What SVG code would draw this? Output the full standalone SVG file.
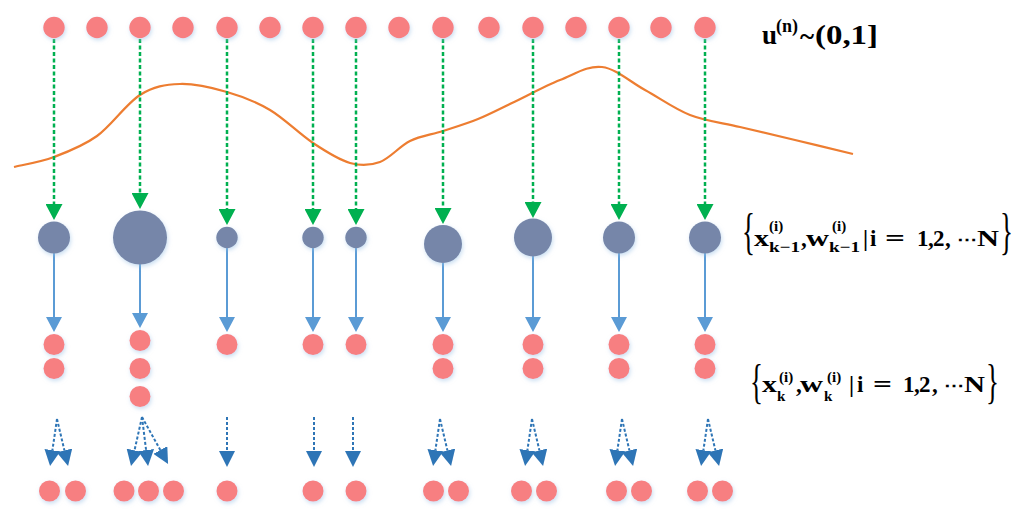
<svg xmlns="http://www.w3.org/2000/svg" width="1024" height="514" viewBox="0 0 1024 514">
<defs>
<filter id="sh" x="-50%" y="-50%" width="200%" height="200%">
<feDropShadow dx="1" dy="2" stdDeviation="2" flood-color="#9dc3e6" flood-opacity="0.55"/>
</filter>
<marker id="hg" markerUnits="userSpaceOnUse" viewBox="0 0 16 17" markerWidth="16" markerHeight="17" refX="0" refY="8.5" orient="auto"><path d="M0,0 L16,8.5 L0,17 z" fill="#00b050"/></marker>
<marker id="hl" markerUnits="userSpaceOnUse" viewBox="0 0 15 16" markerWidth="15" markerHeight="16" refX="0" refY="8" orient="auto"><path d="M0,0 L15,8 L0,16 z" fill="#5b9bd5"/></marker>
<marker id="hd" markerUnits="userSpaceOnUse" viewBox="0 0 16 16" markerWidth="16" markerHeight="16" refX="0" refY="8" orient="auto"><path d="M0,0 L16,8 L0,16 z" fill="#2e75b6"/></marker>
</defs>
<style>
.r{fill:#f77f81;filter:url(#sh)}
.p{fill:#7686a9;filter:url(#sh)}
.g{stroke:#00b050;stroke-width:2.5;stroke-dasharray:4 2.5;fill:none;marker-end:url(#hg)}
.b{stroke:#5b9bd5;stroke-width:2;fill:none;marker-end:url(#hl)}
.d{stroke:#2e75b6;stroke-width:2;stroke-dasharray:3 2;fill:none;marker-end:url(#hd)}
.t{font-family:"Liberation Serif","Times New Roman",serif;font-weight:bold;fill:#000}
.br{font-family:"Liberation Serif","Times New Roman",serif;font-weight:normal;fill:#000}
</style>
<rect width="1024" height="514" fill="#ffffff"/>

<path id="density" d="M14,167 C20.7,165.3 40.2,162.2 54,157 C67.8,151.8 82.7,146.3 97,136 C111.3,125.7 126.2,103.7 140,95 C153.8,86.3 165.5,84.5 180,84 C194.5,83.5 212,87.7 227,92 C242,96.3 255.7,101.5 270,110 C284.3,118.5 299.7,134.2 313,143 C326.3,151.8 338.8,159.8 350,163 C361.2,166.2 370,165.7 380,162 C390,158.3 399.5,146.2 410,141 C420.5,135.8 431.7,134.7 443,131 C454.3,127.3 466.5,123.7 478,119 C489.5,114.3 498.3,109.5 512,103 C525.7,96.5 545,86 560,80 C575,74 587.8,65.3 602,67 C616.2,68.7 630.3,82 645,90 C659.7,98 674.2,108.8 690,115 C705.8,121.2 722.5,122.8 740,127 C757.5,131.2 776.2,135.5 795,140 C813.8,144.5 843.3,151.7 853,154" fill="none" stroke="#ed7d31" stroke-width="2.2"/>

<g id="connectors">
<line class="g" x1="54" y1="39" x2="54" y2="204"/>
<line class="g" x1="140" y1="39" x2="140" y2="193"/>
<line class="g" x1="227" y1="39" x2="227" y2="209"/>
<line class="g" x1="313" y1="39" x2="313" y2="209"/>
<line class="g" x1="356" y1="39" x2="356" y2="209"/>
<line class="g" x1="443" y1="39" x2="443" y2="208"/>
<line class="g" x1="533" y1="39" x2="533" y2="202"/>
<line class="g" x1="619" y1="39" x2="619" y2="204"/>
<line class="g" x1="705" y1="39" x2="705" y2="204"/>

<line class="b" x1="54" y1="253" x2="54" y2="317"/>
<line class="b" x1="140" y1="264" x2="140" y2="313"/>
<line class="b" x1="227" y1="248" x2="227" y2="317"/>
<line class="b" x1="313" y1="248" x2="313" y2="317"/>
<line class="b" x1="356" y1="248" x2="356" y2="317"/>
<line class="b" x1="443" y1="263" x2="443" y2="317"/>
<line class="b" x1="533" y1="256" x2="533" y2="317"/>
<line class="b" x1="619" y1="253" x2="619" y2="317"/>
<line class="b" x1="705" y1="253" x2="705" y2="317"/>

<line class="d" x1="57" y1="419" x2="52.4" y2="450.2"/>
<line class="d" x1="57" y1="419" x2="64.4" y2="450.4"/>
<line class="d" x1="142" y1="417" x2="134.5" y2="450.4"/>
<line class="d" x1="142" y1="417" x2="146.1" y2="450.1"/>
<line class="d" x1="142" y1="417" x2="160.3" y2="450"/>
<line class="d" x1="227" y1="417" x2="227" y2="451"/>
<line class="d" x1="314" y1="417" x2="314" y2="451"/>
<line class="d" x1="353" y1="417" x2="353" y2="451"/>
<line class="d" x1="440" y1="419" x2="435.4" y2="450.2"/>
<line class="d" x1="440" y1="419" x2="447.4" y2="450.4"/>
<line class="d" x1="532" y1="419" x2="527.4" y2="450.2"/>
<line class="d" x1="532" y1="419" x2="539.4" y2="450.4"/>
<line class="d" x1="622" y1="419" x2="617.4" y2="450.2"/>
<line class="d" x1="622" y1="419" x2="629.4" y2="450.4"/>
<line class="d" x1="708" y1="419" x2="703.4" y2="450.2"/>
<line class="d" x1="708" y1="419" x2="715.4" y2="450.4"/>
</g>

<g id="uniform-samples">
<circle class="r" cx="54" cy="27.5" r="10.7"/>
<circle class="r" cx="97" cy="27.5" r="10.7"/>
<circle class="r" cx="140" cy="27.5" r="10.7"/>
<circle class="r" cx="183" cy="27.5" r="10.7"/>
<circle class="r" cx="227" cy="27.5" r="10.7"/>
<circle class="r" cx="270" cy="27.5" r="10.7"/>
<circle class="r" cx="313" cy="27.5" r="10.7"/>
<circle class="r" cx="356" cy="27.5" r="10.7"/>
<circle class="r" cx="399" cy="27.5" r="10.7"/>
<circle class="r" cx="443" cy="27.5" r="10.7"/>
<circle class="r" cx="489" cy="27.5" r="10.7"/>
<circle class="r" cx="533" cy="27.5" r="10.7"/>
<circle class="r" cx="576" cy="27.5" r="10.7"/>
<circle class="r" cx="619" cy="27.5" r="10.7"/>
<circle class="r" cx="661" cy="27.5" r="10.7"/>
<circle class="r" cx="705" cy="27.5" r="10.7"/>
</g>

<g id="weighted-particles">
<circle class="p" cx="54" cy="237.5" r="16"/>
<circle class="p" cx="140" cy="237.5" r="27"/>
<circle class="p" cx="227" cy="237.5" r="10.7"/>
<circle class="p" cx="313" cy="237.5" r="10.7"/>
<circle class="p" cx="356" cy="237.5" r="10.7"/>
<circle class="p" cx="443" cy="244" r="19"/>
<circle class="p" cx="533" cy="237.5" r="19"/>
<circle class="p" cx="619" cy="237.5" r="16"/>
<circle class="p" cx="705" cy="237.5" r="16"/>
</g>

<g id="resampled-particles">
<circle class="r" cx="54" cy="344.5" r="10.5"/>
<circle class="r" cx="54" cy="368.5" r="10.5"/>
<circle class="r" cx="140" cy="340.5" r="10.5"/>
<circle class="r" cx="140" cy="368.5" r="10.5"/>
<circle class="r" cx="140" cy="396.5" r="10.5"/>
<circle class="r" cx="227" cy="344.5" r="10.5"/>
<circle class="r" cx="313" cy="344.5" r="10.5"/>
<circle class="r" cx="356" cy="344.5" r="10.5"/>
<circle class="r" cx="443" cy="344.5" r="10.5"/>
<circle class="r" cx="443" cy="368.5" r="10.5"/>
<circle class="r" cx="533" cy="344.5" r="10.5"/>
<circle class="r" cx="533" cy="368.5" r="10.5"/>
<circle class="r" cx="619" cy="344.5" r="10.5"/>
<circle class="r" cx="619" cy="368.5" r="10.5"/>
<circle class="r" cx="705" cy="344.5" r="10.5"/>
<circle class="r" cx="705" cy="368.5" r="10.5"/>
</g>

<g id="spread-particles">
<circle class="r" cx="49.5" cy="491" r="10.5"/>
<circle class="r" cx="75.5" cy="491" r="10.5"/>
<circle class="r" cx="124" cy="491" r="10.5"/>
<circle class="r" cx="148.5" cy="491" r="10.5"/>
<circle class="r" cx="173.5" cy="491" r="10.5"/>
<circle class="r" cx="227" cy="491" r="10.5"/>
<circle class="r" cx="313" cy="491" r="10.5"/>
<circle class="r" cx="356" cy="491" r="10.5"/>
<circle class="r" cx="433.5" cy="491" r="10.5"/>
<circle class="r" cx="458.5" cy="491" r="10.5"/>
<circle class="r" cx="521.5" cy="491" r="10.5"/>
<circle class="r" cx="546.5" cy="491" r="10.5"/>
<circle class="r" cx="616.5" cy="491" r="10.5"/>
<circle class="r" cx="641.5" cy="491" r="10.5"/>
<circle class="r" cx="697.5" cy="491" r="10.5"/>
<circle class="r" cx="722.5" cy="491" r="10.5"/>
</g>

<g id="label-u">
<text class="t" x="762" y="44" font-size="27">u</text>
<text class="t" x="776" y="32" font-size="18">(n)</text>
<text class="t" x="800" y="45" font-size="27">~</text>
<text class="t" x="815" y="44" font-size="28" textLength="63" lengthAdjust="spacingAndGlyphs">(0,1]</text>
</g>

<g id="label-prev">
<text class="br" transform="translate(742,248) scale(0.9,1.7)" font-size="30">{</text>
<text class="t" x="754" y="246" font-size="23" textLength="15" lengthAdjust="spacingAndGlyphs">x</text>
<text class="t" x="769" y="231" font-size="15">(i)</text>
<text class="t" x="769" y="252" font-size="15" textLength="31" lengthAdjust="spacingAndGlyphs">k−1</text>
<text class="t" x="801" y="246" font-size="23">,</text>
<text class="t" x="806" y="246" font-size="23" textLength="23" lengthAdjust="spacingAndGlyphs">w</text>
<text class="t" x="832" y="231" font-size="15">(i)</text>
<text class="t" x="829" y="252" font-size="15" textLength="31" lengthAdjust="spacingAndGlyphs">k−1</text>
<text class="t" x="863" y="246" font-size="23">|</text>
<text class="t" x="870" y="246" font-size="23">i</text>
<text class="t" x="885" y="246" font-size="23" textLength="20" lengthAdjust="spacingAndGlyphs">=</text>
<text class="t" x="917" y="246" font-size="23">1</text>
<text class="t" x="928" y="246" font-size="23">,</text>
<text class="t" x="933" y="246" font-size="23">2</text>
<text class="t" x="945" y="246" font-size="23">,</text>
<text class="t" x="957" y="246" font-size="20">⋯</text>
<text class="t" x="977" y="246" font-size="23" textLength="22" lengthAdjust="spacingAndGlyphs">N</text>
<text class="br" transform="translate(1000,248) scale(0.9,1.7)" font-size="30">}</text>
</g>

<g id="label-curr">
<text class="br" transform="translate(750,398) scale(0.9,1.6)" font-size="30">{</text>
<text class="t" x="762" y="392" font-size="23" textLength="15" lengthAdjust="spacingAndGlyphs">x</text>
<text class="t" x="779" y="382" font-size="15">(i)</text>
<text class="t" x="777" y="401" font-size="15">k</text>
<text class="t" x="796" y="392" font-size="23">,</text>
<text class="t" x="800" y="392" font-size="23" textLength="23" lengthAdjust="spacingAndGlyphs">w</text>
<text class="t" x="827" y="382" font-size="15">(i)</text>
<text class="t" x="824" y="401" font-size="15">k</text>
<text class="t" x="849" y="392" font-size="23">|</text>
<text class="t" x="857" y="392" font-size="23">i</text>
<text class="t" x="873" y="392" font-size="23" textLength="19" lengthAdjust="spacingAndGlyphs">=</text>
<text class="t" x="903" y="392" font-size="23">1</text>
<text class="t" x="914" y="392" font-size="23">,</text>
<text class="t" x="919" y="392" font-size="23">2</text>
<text class="t" x="932" y="392" font-size="23">,</text>
<text class="t" x="944" y="392" font-size="20">⋯</text>
<text class="t" x="964" y="392" font-size="23" textLength="21" lengthAdjust="spacingAndGlyphs">N</text>
<text class="br" transform="translate(986,398) scale(0.9,1.6)" font-size="30">}</text>
</g>
</svg>
